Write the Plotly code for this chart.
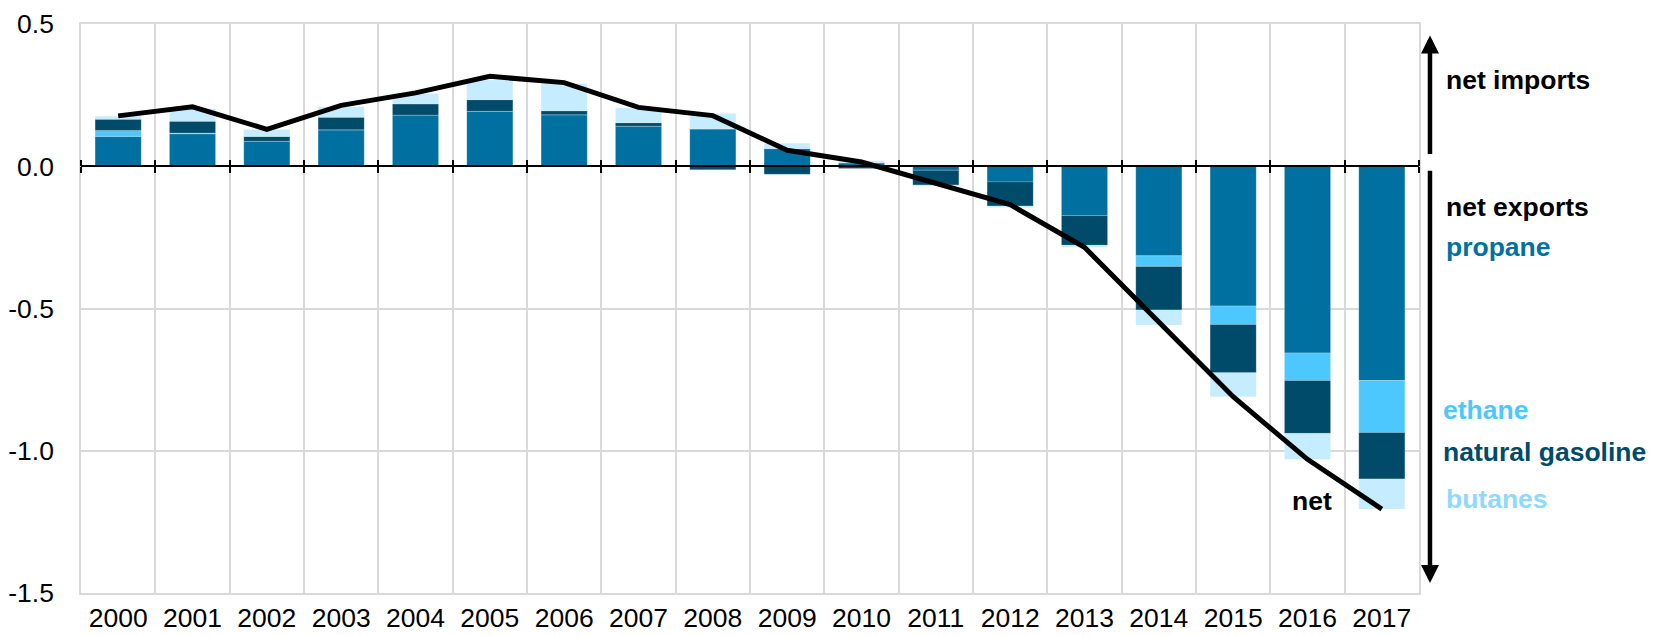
import plotly.graph_objects as go

years = list(range(2000, 2018))
year_labels = [str(y) for y in years]
propane = [0.105, 0.114, 0.088, 0.128, 0.180, 0.193, 0.181, 0.141, 0.131, 0.062, 0.012,
           -0.014, -0.055, -0.173, -0.315, -0.491, -0.656, -0.753]
ethane = [0.021, 0.003, 0.0, 0.0, 0.0, 0.0, 0.0, 0.0, 0.0, 0.0, 0.0,
          0.0, 0.0, 0.0, -0.037, -0.065, -0.097, -0.183]
natural_gasoline = [0.039, 0.041, 0.017, 0.044, 0.039, 0.041, 0.014, 0.012, -0.012, -0.028, -0.008,
                    -0.052, -0.085, -0.105, -0.153, -0.170, -0.186, -0.163]
butanes = [0.011, 0.044, 0.024, 0.037, 0.037, 0.069, 0.096, 0.052, 0.054, 0.019, 0.007,
           -0.003, -0.005, -0.007, -0.053, -0.084, -0.091, -0.106]
net = [0.177, 0.209, 0.130, 0.214, 0.258, 0.316, 0.294, 0.207, 0.178, 0.056, 0.015,
       -0.060, -0.135, -0.285, -0.550, -0.810, -1.030, -1.205]

y_ticks = [0.5, 0.0, -0.5, -1.0, -1.5]
y_tick_labels = ["0.5", "0.0", "-0.5", "-1.0", "-1.5"]

series = [
    ("propane", propane, "#0070A0", "#0071A0"),
    ("ethane", ethane, "#4DC8FF", "#4DC8FF"),
    ("natural gasoline", natural_gasoline, "#004A6A", "#004A6A"),
    ("butanes", butanes, "#C5ECFF", "#8FD8FF"),
]

FONT = "Liberation Sans, Arial, sans-serif"
x_range = [years[0] - 0.5, years[-1] + 0.5]
boundaries = [y - 0.5 for y in years] + [years[-1] + 0.5]

fig = go.Figure()
for name, vals, color, _ in series:
    fig.add_trace(go.Bar(x=years, y=vals, name=name,
                         marker=dict(color=color, line=dict(width=0.75, color="rgba(255,255,255,0.25)")),
                         width=0.62, showlegend=False))

fig.add_trace(go.Scatter(x=years, y=net, mode="lines", name="net", xaxis="x2",
                         line=dict(color="black", width=5), showlegend=False))
fig.add_trace(go.Scatter(x=[], y=[], xaxis="x3", showlegend=False, hoverinfo="skip"))

zero_pos = (0 - (-1.5)) / 2.0

fig.update_layout(
    width=1652, height=628,
    margin=dict(l=73, r=241, t=16, b=43, autoexpand=False),
    barmode="relative",
    plot_bgcolor="white", paper_bgcolor="white",
    font=dict(family=FONT, size=27, color="black"),
    xaxis=dict(range=x_range, tickvals=years, ticktext=year_labels, showgrid=False, automargin=False,
               zeroline=False, showline=True, linecolor="#D9D9D9", linewidth=1.5, mirror=True,
               ticks="", ticklabeloverflow="allow",
               tickfont=dict(size=26.5, family=FONT)),
    xaxis2=dict(range=x_range, overlaying="x", anchor="free", position=zero_pos, side="bottom",
                automargin=False,
                tickvals=boundaries, showticklabels=False, showgrid=True, gridcolor="#D9D9D9",
                gridwidth=1.5, zeroline=False, showline=True, linecolor="black", linewidth=1.5,
                ticks="outside", ticklen=6, tickwidth=1.5, tickcolor="black"),
    xaxis3=dict(range=x_range, overlaying="x", anchor="free", position=zero_pos, side="top",
                automargin=False,
                tickvals=boundaries, showticklabels=False, showgrid=False, zeroline=False,
                showline=False, ticks="outside", ticklen=6, tickwidth=1.5, tickcolor="black"),
    yaxis=dict(range=[-1.5, 0.5], tickvals=y_ticks, ticktext=y_tick_labels, showgrid=True,
               automargin=False, ticklabeloverflow="allow",
               gridcolor="#D9D9D9", gridwidth=1.5, zeroline=False, showline=True,
               linecolor="#D9D9D9", linewidth=1.5, mirror=True,
               ticks="outside", ticklen=20, tickcolor="rgba(0,0,0,0)",
               tickfont=dict(size=26.5, family=FONT)),
)

ann_x = 1.0187
arrow_x = 1.0082
annotations = [
    dict(text="<b>net imports</b>", x=ann_x, y=0.304, color="black"),
    dict(text="<b>net exports</b>", x=ann_x, y=-0.143, color="black"),
    dict(text="<b>propane</b>", x=ann_x, y=-0.283, color=series[0][3]),
    dict(text="<b>ethane</b>", x=ann_x - 0.002, y=-0.855, color=series[1][3]),
    dict(text="<b>natural gasoline</b>", x=ann_x - 0.002, y=-1.005, color=series[2][3]),
    dict(text="<b>butanes</b>", x=ann_x, y=-1.168, color=series[3][3]),
]
for a in annotations:
    fig.add_annotation(text=a["text"], xref="paper", yref="y", x=a["x"], y=a["y"],
                       xanchor="left", yanchor="middle", showarrow=False,
                       font=dict(family=FONT, size=26.5, color=a["color"]))

fig.add_annotation(text="<b>net</b>", xref="x", yref="y", x=2016.06, y=-1.178,
                   xanchor="center", yanchor="middle", showarrow=False,
                   font=dict(family=FONT, size=26.5, color="black"))

# arrows
fig.add_annotation(text="", xref="paper", yref="y", x=arrow_x, y=0.46,
                   axref="pixel", ayref="y", ax=0, ay=0.038, showarrow=True,
                   arrowhead=2, arrowsize=0.8, arrowwidth=4.5, arrowcolor="black", standoff=0)
fig.add_annotation(text="", xref="paper", yref="y", x=arrow_x, y=-1.465,
                   axref="pixel", ayref="y", ax=0, ay=-0.0105, showarrow=True,
                   arrowhead=2, arrowsize=0.8, arrowwidth=4.5, arrowcolor="black", standoff=0)

fig.write_html("out.html")
